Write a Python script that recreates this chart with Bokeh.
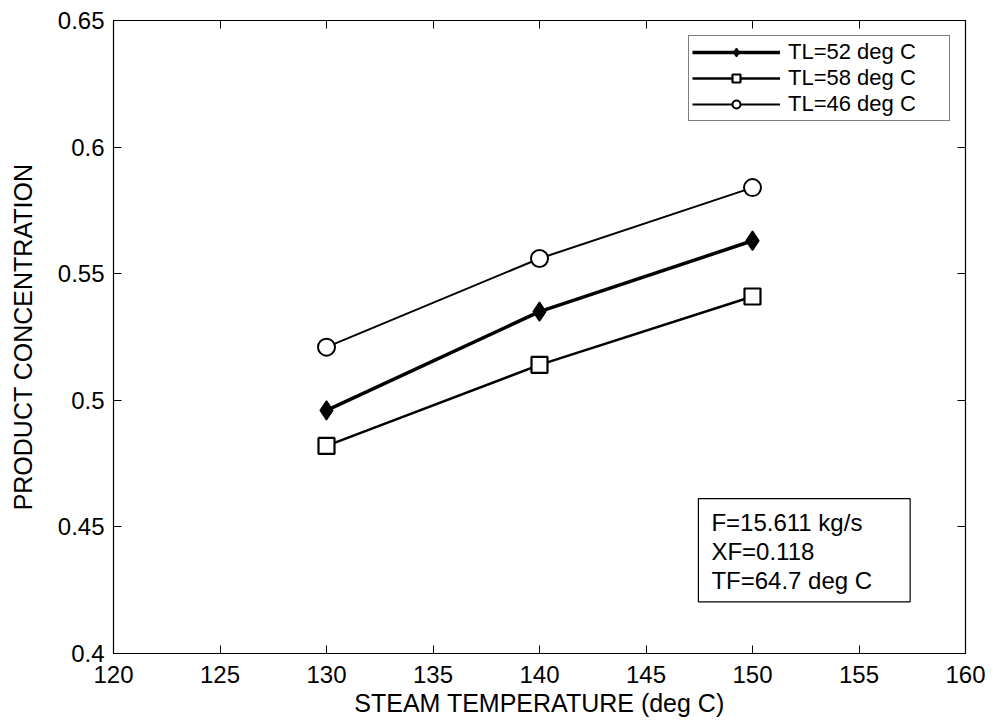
from bokeh.plotting import figure
from bokeh.models import FixedTicker, LinearAxis, Legend, LegendItem, Label, Range1d
from bokeh.embed import file_html
from bokeh.resources import INLINE

# ---- data ----
steam_temp = [130, 140, 150]
tl52 = [0.496, 0.535, 0.563]
tl58 = [0.482, 0.514, 0.541]
tl46 = [0.521, 0.556, 0.584]

series_names = ["TL=52 deg C", "TL=58 deg C", "TL=46 deg C"]

x_ticks = [120, 125, 130, 135, 140, 145, 150, 155, 160]
x_tick_labels = ["120", "125", "130", "135", "140", "145", "150", "155", "160"]
y_ticks = [0.4, 0.45, 0.5, 0.55, 0.6, 0.65]
y_tick_labels = ["0.4", "0.45", "0.5", "0.55", "0.6", "0.65"]

info_text = "F=15.611 kg/s\nXF=0.118\nTF=64.7 deg C"

FONT = "Liberation Sans"
TICK_FS = "24px"
LABEL_FS = "25px"

p = figure(width=993, height=721, output_backend="svg", toolbar_location=None,
           x_range=Range1d(120, 160), y_range=Range1d(0.4, 0.65),
           min_border_left=113, min_border_right=28, min_border_top=20, min_border_bottom=68,
           x_axis_label="STEAM TEMPERATURE (deg C)", y_axis_label="PRODUCT CONCENTRATION")

p.xgrid.visible = False
p.ygrid.visible = False
p.outline_line_color = "black"
p.outline_line_width = 1.2
p.background_fill_color = "white"
p.border_fill_color = "white"

def style_axis(ax, ticks, labels, show_labels=True):
    ax.ticker = FixedTicker(ticks=ticks)
    ax.major_tick_in = 8
    ax.major_tick_out = 0
    ax.minor_tick_in = 0
    ax.minor_tick_out = 0
    ax.axis_line_color = "black"
    ax.major_tick_line_color = "black"
    ax.major_label_text_font = FONT
    ax.major_label_text_color = "black"
    ax.major_label_text_font_size = TICK_FS
    ax.axis_label_text_font = FONT
    ax.axis_label_text_font_style = "normal"
    ax.axis_label_text_color = "black"
    ax.axis_label_text_font_size = LABEL_FS
    if show_labels:
        ax.major_label_overrides = {t: l for t, l in zip(ticks, labels)}
    else:
        ax.major_label_overrides = {t: "" for t in ticks}
        ax.major_label_standoff = 0

style_axis(p.xaxis[0], x_ticks, x_tick_labels)
style_axis(p.yaxis[0], y_ticks, y_tick_labels)
p.xaxis[0].major_label_standoff = 12
p.xaxis[0].axis_label_standoff = 3
p.yaxis[0].major_label_standoff = 9
p.yaxis[0].axis_label_standoff = 18

top_ax = LinearAxis()
right_ax = LinearAxis()
style_axis(top_ax, x_ticks, x_tick_labels, show_labels=False)
style_axis(right_ax, y_ticks, y_tick_labels, show_labels=False)
p.add_layout(top_ax, "above")
p.add_layout(right_ax, "right")

l52 = p.line(steam_temp, tl52, line_color="black", line_width=3.5)
m52 = p.scatter(steam_temp, tl52, marker="diamond", size=19, fill_color="black",
                line_color="black", line_width=1.5)
l58 = p.line(steam_temp, tl58, line_color="black", line_width=2.5)
m58 = p.scatter(steam_temp, tl58, marker="square", size=16, fill_color="white",
                line_color="black", line_width=2.2)
l46 = p.line(steam_temp, tl46, line_color="black", line_width=2)
m46 = p.scatter(steam_temp, tl46, marker="circle", size=17, fill_color="white",
                line_color="black", line_width=2)

legend = Legend(items=[
    LegendItem(label=series_names[0], renderers=[l52, m52]),
    LegendItem(label=series_names[1], renderers=[l58, m58]),
    LegendItem(label=series_names[2], renderers=[l46, m46]),
], location="top_right")
legend.margin = 15
legend.padding = 3
legend.spacing = 0
legend.label_height = 20
legend.glyph_height = 20
legend.glyph_width = 88
legend.label_standoff = 8
legend.label_width = 158
legend.label_text_font = FONT
legend.label_text_font_size = "22px"
legend.label_text_color = "black"
legend.border_line_color = "black"
legend.border_line_width = 1.2
legend.background_fill_alpha = 1.0
p.add_layout(legend)

info = Label(x=147.46, y=0.4612, text=info_text, anchor="top_left",
             text_font=FONT, text_font_size=TICK_FS, text_color="black",
             border_line_color="black", border_line_width=1.2,
             background_fill_color="white",
             padding=dict(left=13, right=38, top=10, bottom=8),
             text_line_height=1.08)
p.add_layout(info)

open("out.html", "w").write(file_html(p, INLINE))
